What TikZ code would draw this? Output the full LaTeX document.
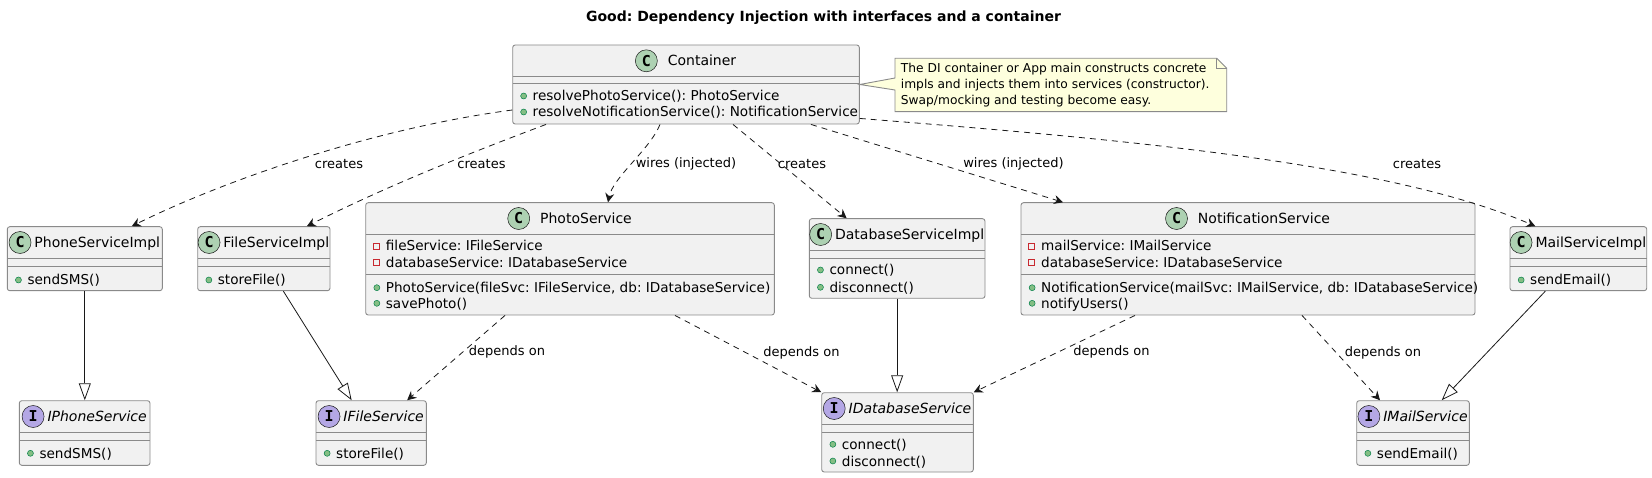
\documentclass[tikz,border=0pt]{standalone}
\usepackage{fontspec}
\setmainfont{DejaVu Sans}
\setmonofont{DejaVu Sans Mono}
\usetikzlibrary{arrows.meta,positioning}
\frenchspacing

\definecolor{boxfill}{HTML}{F1F1F1}
\definecolor{boxline}{HTML}{181818}
\definecolor{frame}{HTML}{8A8A8A}
\definecolor{classC}{HTML}{ADD1B2}
\definecolor{ifaceI}{HTML}{B4A7E5}
\definecolor{notefill}{HTML}{FEFFDD}
\definecolor{pubfill}{HTML}{84BE84}
\definecolor{publine}{HTML}{038048}
\definecolor{privline}{HTML}{C82930}

\tikzset{
  classbox/.style={draw=frame, line width=0.9pt, fill=boxfill, rounded corners=2.5pt, inner sep=0pt},
  classsep/.style={draw=frame, line width=0.9pt},
  Cname/.style={inner sep=0pt, text height=10.2pt, text depth=0pt, font=\fontsize{14}{16.5}\selectfont},
  Iname/.style={Cname, font=\fontsize{14}{16.5}\selectfont\itshape},
  Cicon/.style={circle, draw=boxline, line width=0.5pt, fill=classC, minimum size=22pt, inner sep=0pt,
    font=\fontsize{15}{15}\selectfont\ttfamily\bfseries},
  Iicon/.style={Cicon, fill=ifaceI},
  member/.style={anchor=west, inner sep=0pt, text height=10pt, text depth=0pt,
    font=\fontsize{13.6}{16.5}\selectfont},
  pubdot/.style={circle, draw=publine, line width=0.5pt, fill=pubfill, minimum size=6pt, inner sep=0pt, xshift=-5.6pt},
  privbox/.style={rectangle, draw=privline, line width=0.7pt, minimum size=6pt, inner sep=0pt, xshift=-6pt},
  pub/.style={member, label={[pubdot]left:{}}},
  priv/.style={member, label={[privbox]left:{}}},
  lbl/.style={inner sep=0pt, font=\fontsize{13}{15}\selectfont},
  creates/.style={draw=boxline, line width=0.8pt, dash pattern=on 6pt off 5pt,
    -{Stealth[length=9pt,width=9pt,inset=3pt]}},
  dep/.style={creates},
  realizes/.style={draw=boxline, line width=0.8pt, -{Triangle[open,length=17pt,width=12pt]}},
  notebox/.style={draw=frame, line width=0.9pt, fill=notefill},
  notetext/.style={anchor=west, align=left, inner sep=0pt, font=\fontsize{12.25}{15.8}\selectfont},
  diagtitle/.style={font=\fontsize{14}{16}\selectfont\bfseries}
}

% [icon gap]{node}{C/I}{title}{left}{top}{right}{bottom}{second separator}
\newcommand{\umlclass}[9][3]{%
  \node[classbox, minimum width={(#7-#5)*1pt}, minimum height={(#8-#6)*1pt}]
    (#2) at ({(#5+#7)/2},{(#6+#8)/2}) {};
  \draw[classsep] (#5,#6+31.6) -- (#7,#6+31.6) (#5,#9) -- (#7,#9);
  \node[#3name] (#2-name) at ({(#5+#7)/2+(22+#1)/2},{#6+15.8}) {#4};
  \node[#3icon, left=#1pt of #2-name] (#2-icon) {#3};
}

\begin{document}
\begin{tikzpicture}[x=1pt,y=-1pt]
\useasboundingbox (0,0) rectangle (1652,478);

\node[diagtitle] (title) at (823.5,18) {Good: Dependency Injection with interfaces and a container};

% container and note
\umlclass[10]{container}{C}{Container}{512.7}{45}{859.3}{124}{83.3}
\node[pub] (container-m1) at (532.5,96) {resolvePhotoService(): PhotoService};
\node[pub] (container-m2) at (532.5,112) {resolveNotificationService(): NotificationService};

\path[notebox] (895,58.3) -- (1216.7,58.3) -- (1226.7,68.3) -- (1226.7,111.7) -- (895,111.7)
  -- (895,90) -- (container.east) -- (895,78) -- cycle;
\draw[classsep] (1216.7,58.3) -- (1216.7,68.3) -- (1226.7,68.3);
\node[notetext] (note) at (900.7,85) {The DI container or App main constructs concrete\\
  impls and injects them into services (constructor).\\
  Swap/mocking and testing become easy.};

% middle row
\umlclass{phoneImpl}{C}{PhoneServiceImpl}{7.3}{226.7}{162.3}{290.7}{266}
\node[pub] (phoneImpl-m1) at (27.3,280) {sendSMS()};

\umlclass{fileImpl}{C}{FileServiceImpl}{197.7}{226.7}{330}{290.7}{266}
\node[pub] (fileImpl-m1) at (217.7,280) {storeFile()};

\umlclass[10]{photo}{C}{PhotoService}{365.7}{202.7}{774.3}{315}{274.3}
\node[priv] (photo-a1) at (385.7,246) {fileService: IFileService};
\node[priv] (photo-a2) at (385.7,262.7) {databaseService: IDatabaseService};
\node[pub] (photo-m1) at (385.7,287.7) {PhotoService(fileSvc: IFileService, db: IDatabaseService)};
\node[pub] (photo-m2) at (385.7,303.3) {savePhoto()};

\umlclass{dbImpl}{C}{DatabaseServiceImpl}{809.3}{218.7}{985}{298.3}{258.3}
\node[pub] (dbImpl-m1) at (829.3,270) {connect()};
\node[pub] (dbImpl-m2) at (829.3,287.3) {disconnect()};

\umlclass[10]{notif}{C}{NotificationService}{1021}{202.7}{1475}{315}{274.3}
\node[priv] (notif-a1) at (1041,246) {mailService: IMailService};
\node[priv] (notif-a2) at (1041,262.7) {databaseService: IDatabaseService};
\node[pub] (notif-m1) at (1041,287.7) {NotificationService(mailSvc: IMailService, db: IDatabaseService)};
\node[pub] (notif-m2) at (1041,303.3) {notifyUsers()};

\umlclass{mailImpl}{C}{MailServiceImpl}{1510}{226.7}{1646.7}{290.7}{266}
\node[pub] (mailImpl-m1) at (1530,280) {sendEmail()};

% interfaces
\umlclass{iPhone}{I}{IPhoneService}{19.3}{400.7}{150}{465.3}{440}
\node[pub] (iPhone-m1) at (39.3,453.3) {sendSMS()};

\umlclass{iFile}{I}{IFileService}{316}{400.7}{426.3}{465.3}{440}
\node[pub] (iFile-m1) at (336,453.3) {storeFile()};

\umlclass{iDb}{I}{IDatabaseService}{821.7}{392.7}{973.3}{472}{432.3}
\node[pub] (iDb-m1) at (841.7,444.3) {connect()};
\node[pub] (iDb-m2) at (841.7,461) {disconnect()};

\umlclass{iMail}{I}{IMailService}{1356.7}{400.7}{1469.3}{465.3}{440}
\node[pub] (iMail-m1) at (1376.7,453.3) {sendEmail()};

% container edges
\draw[creates] ([yshift=-25.5pt]container.west) .. controls +(-150,20) and +(80,-40) .. ([xshift=47pt]phoneImpl.north);
\draw[creates] ([xshift=-140pt]container.south) .. controls +(-80,30) and +(80,-40) .. ([xshift=43pt]fileImpl.north);
\draw[creates] ([xshift=-26pt]container.south) .. controls +(-10,25) and +(5,-25) .. ([xshift=38pt]photo.north);
\draw[creates] ([xshift=47pt]container.south) -- ([xshift=-50.5pt]dbImpl.north);
\draw[creates] ([xshift=125pt]container.south) -- ([xshift=-185pt]notif.north);
\draw[creates] ([yshift=6pt]container.south east) .. controls +(250,20) and +(-150,-65) .. ([xshift=-43pt]mailImpl.north);
\node[lbl] (lbl-phone) at (339,164) {creates};
\node[lbl] (lbl-file) at (481.5,164) {creates};
\node[lbl] (lbl-photo) at (686,164) {wires (injected)};
\node[lbl] (lbl-db) at (802,164) {creates};
\node[lbl] (lbl-notif) at (1013.5,164) {wires (injected)};
\node[lbl] (lbl-mail) at (1417,164) {creates};

% realizations
\draw[realizes] (phoneImpl.south) -- (phoneImpl.south |- iPhone.north);
\draw[realizes] ([xshift=19.5pt]fileImpl.south) -- ([xshift=-19.5pt]iFile.north);
\draw[realizes] (dbImpl.south) -- (dbImpl.south |- iDb.north);
\draw[realizes] ([xshift=-33pt]mailImpl.south) -- ([xshift=28.7pt]iMail.north);

% dependencies
\draw[dep] ([xshift=-65pt]photo.south) -- ([xshift=36pt]iFile.north);
\draw[dep] ([xshift=105pt]photo.south) -- (iDb.north west);
\draw[dep] ([xshift=-113pt]notif.south) -- (iDb.north east);
\draw[dep] ([xshift=54pt]notif.south) -- ([xshift=-33pt]iMail.north);
\node[lbl] (lbl-dep1) at (507,352) {depends on};
\node[lbl] (lbl-dep2) at (801.5,353) {depends on};
\node[lbl] (lbl-dep3) at (1111.5,352) {depends on};
\node[lbl] (lbl-dep4) at (1383,353) {depends on};
\end{tikzpicture}
\end{document}
